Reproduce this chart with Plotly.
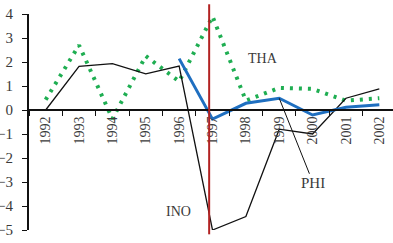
import plotly.graph_objects as go

years = ["1992", "1993", "1994", "1995", "1996", "1997", "1998", "1999", "2000", "2001", "2002"]
tha = [0.43, 2.7, -0.37, 2.25, 1.19, 3.9, 0.39, 0.92, 0.88, 0.39, 0.49]
ino = [0.0, 1.82, 1.93, 1.51, 1.83, -5.0, -4.44, -0.8, -1.0, 0.49, 0.88]
phi_years = ["1996", "1997", "1998", "1999", "2000", "2001", "2002"]
phi = [2.14, -0.38, 0.28, 0.49, -0.21, 0.11, 0.22]
y_ticks = [4, 3, 2, 1, 0, -1, -2, -3, -4, -5]

FONT = "Liberation Serif"
TXT = "#3a3a3a"

fig = go.Figure()
fig.add_trace(go.Scatter(x=years, y=tha, mode="lines", name="THA",
                         line=dict(color="#1fae52", width=4, dash="3px,6px")))
fig.add_trace(go.Scatter(x=years, y=ino, mode="lines", name="INO",
                         line=dict(color="#111111", width=1.3)))
fig.add_trace(go.Scatter(x=phi_years, y=phi, mode="lines", name="PHI",
                         line=dict(color="#1f6fc0", width=3)))

fig.add_shape(type="line", xref="x", yref="paper", x0=4.9, x1=4.9, y0=-0.02, y1=1.045,
              line=dict(color="#b22222", width=2))

fig.add_annotation(x=7, y=0.49, text="PHI", showarrow=True, arrowhead=0,
                   arrowwidth=1, arrowcolor="#111111", ax=34, ay=85,
                   font=dict(family=FONT, size=15, color=TXT))
fig.add_annotation(x=6.52, y=2.15, text="THA", showarrow=False,
                   font=dict(family=FONT, size=14, color=TXT))
fig.add_annotation(x=3.97, y=-4.23, text="INO", showarrow=False,
                   font=dict(family=FONT, size=14, color=TXT))

fig.update_layout(
    width=393, height=243,
    margin=dict(l=29, r=0, t=14, b=13, autoexpand=False),
    paper_bgcolor="white", plot_bgcolor="white",
    showlegend=False,
    font=dict(family=FONT, size=14, color=TXT),
    xaxis=dict(type="category", categoryorder="array", categoryarray=years,
               range=[-0.5, 10.41], anchor="free", position=5/9, automargin=False,
               tickson="boundaries", ticks="outside", ticklen=5, tickwidth=1,
               tickcolor="#111111", showline=True, linecolor="#111111", linewidth=2,
               tickangle=-90, showgrid=False, zeroline=False,
               tickfont=dict(family=FONT, size=14, color=TXT)),
    yaxis=dict(range=[-5, 4], tickvals=y_ticks, ticks="outside", ticklen=5,
               tickwidth=1, tickcolor="#111111", showline=True, linecolor="#111111",
               linewidth=2, showgrid=False, zeroline=False, ticklabelstandoff=6,
               automargin=False,
               tickfont=dict(family=FONT, size=15, color=TXT)),
)

fig.write_html("out.html", config={"displayModeBar": False},
               post_script="document.body.style.margin='0';document.body.style.overflow='hidden';")
